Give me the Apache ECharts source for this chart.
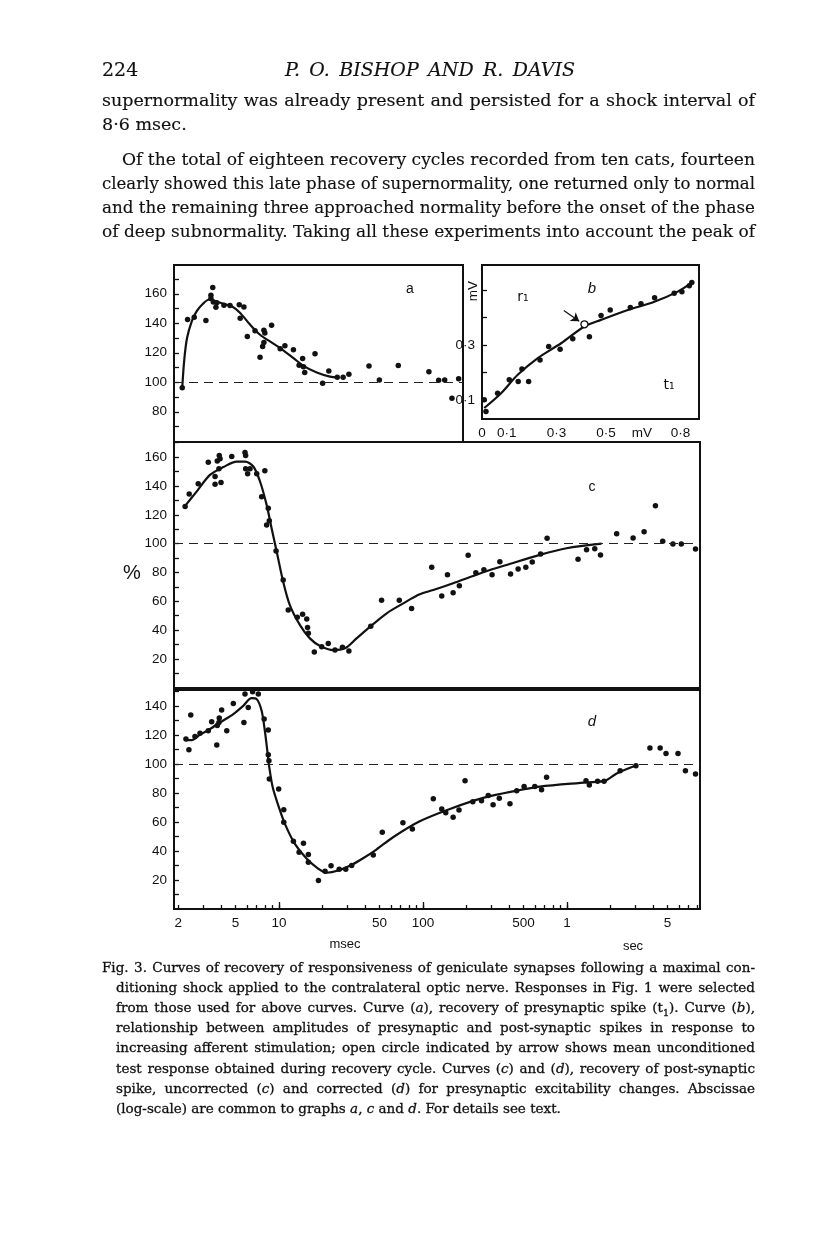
<!DOCTYPE html>
<html><head><meta charset="utf-8">
<script src="https://cdn.jsdelivr.net/npm/echarts@6/dist/echarts.min.js"></script>
<style>
html,body{margin:0;padding:0;background:#fff;}
#page{position:relative;width:816px;height:1234px;overflow:hidden;background:#fff;}
#chart{position:absolute;left:0;top:0;width:816px;height:1234px;}
.ln{position:absolute;white-space:nowrap;color:#111;font-family:'DejaVu Serif',serif;}
</style></head>
<body><div id="page"><div id="chart"></div></div>
<script>
// ---------------- DATA ----------------
// shared abscissa (log scale, msec)
const xLabelTicks = [2, 5, 10, 50, 100, 500, 1000, 5000];
const xLabelText  = ['2', '5', '10', '50', '100', '500', '1', '5'];
const xMinorTicks = [2,3,4,5,6,7,8,9,10,20,30,40,50,60,70,80,90,100,200,300,400,500,600,700,800,900,1000,2000,3000,4000,5000,6000,7000,8000];
const xDecadeTicks = [10, 100, 1000];

// panel a: recovery of presynaptic spike t1 (%)
const aYTicks = [70,80,90,100,110,120,130,140,150,160,170];
const aYLabels = [80,100,120,140,160];
const aPoints = [[2.13,96.3],[2.32,142.5],[2.58,144],[3.11,141.8],[3.47,164.3],[3.37,159],[3.37,156.8],[3.50,154.5],[3.70,153.9],[3.65,150.9],[4.15,152.2],[4.57,152],[5.30,152.5],[5.71,151.1],[5.38,143.4],[6.03,131.1],[6.82,135],[7.39,117],[7.70,124.3],[7.86,127],[7.86,135.2],[7.98,133.4],[8.89,138.6],[10.2,122.7],[11.0,124.7],[12.6,122],[13.8,111.6],[14.6,116.1],[14.8,110.6],[15.1,106.6],[17.8,119.3],[20.1,99.3],[22.2,107.7],[25.4,103.4],[27.9,103.4],[30.6,105.5],[42.2,111.1],[49.8,101.6],[67.4,111.3],[110,107.2],[128.6,101.4],[141.6,101.6],[159,89.1],[177,102.3]];
const aCurve = [[2.13,96.3],[2.20,115.2],[2.30,130],[2.48,141.3],[2.68,148.1],[2.98,153.4],[3.28,156.1],[3.60,155],[4.11,153.2],[4.70,151.5],[5.38,147],[6.30,139.1],[7.39,132.2],[8.66,127.7],[10.2,123.2],[12.6,116.4],[14.8,111.1],[18.3,106.6],[22.6,103.8],[25.8,103.1]];

// panel b: r1 (mV) against t1 (mV)
const bXLabelVals = [0, 0.1, 0.3, 0.5, 0.645, 0.8];
const bXLabelText = ['0', '0·1', '0·3', '0·5', 'mV', '0·8'];
const bYTicks = [0.1, 0.2, 0.3, 0.4, 0.5];
const bYLabelVals = [0.1, 0.3];
const bYLabelText = ['0·1', '0·3'];
const bPoints = [[0.009,0.100],[0.016,0.057],[0.063,0.124],[0.110,0.173],[0.146,0.167],[0.161,0.212],[0.188,0.167],[0.234,0.245],[0.269,0.294],[0.315,0.284],[0.366,0.322],[0.433,0.330],[0.480,0.407],[0.517,0.427],[0.598,0.436],[0.641,0.450],[0.696,0.472],[0.775,0.488],[0.806,0.494],[0.836,0.515],[0.846,0.527]];
const bCurve = [[0.009,0.070],[0.077,0.124],[0.144,0.191],[0.225,0.252],[0.319,0.306],[0.413,0.367],[0.480,0.391],[0.588,0.427],[0.695,0.457],[0.789,0.494],[0.846,0.527]];
const bOpen = [[0.413,0.375]];
const bArrow = [[0.330,0.425],[0.392,0.386]];

// panel c: post-synaptic spike, uncorrected (%)
const cYTicks = [10,20,30,40,50,60,70,80,90,100,110,120,130,140,150,160,170];
const cYLabels = [20,40,60,80,100,120,140,160];
const cPoints = [[2.23,125.7],[2.38,134.5],[2.75,141.5],[3.23,156.5],[3.60,146.5],[3.60,141.2],[3.73,157.4],[3.83,151.9],[3.85,161.1],[3.90,158.8],[3.96,142.4],[4.70,160.4],[5.81,163.2],[5.87,161.1],[5.87,151.9],[6.06,148.4],[6.30,151.9],[7.01,148.4],[7.58,132.6],[7.98,150.5],[8.21,113],[8.43,124.6],[8.57,115.8],[9.55,94.9],[10.7,74.8],[11.6,54],[13.4,48.9],[14.6,51],[15.6,47.7],[15.8,41.9],[16.0,37.8],[17.6,24.8],[19.8,28.5],[22.0,30.8],[24.5,26.2],[27.6,28.1],[30.6,25.5],[43.4,42.8],[51.6,60.7],[68.5,60.7],[83.4,55.1],[115,83.6],[135,63.7],[148,78.5],[162,66],[179,70.8],[206,91.9],[233,79.9],[265,81.9],[302,78.5],[342,87.5],[406,79],[458,82.4],[518,83.6],[574,87.3],[656,92.8],[728,103.8],[1194,89.2],[1368,95.8],[1560,96.5],[1710,92.2],[2214,106.9],[2880,104],[3434,108.3],[4116,126.2],[4624,101.7],[5446,99.8],[6226,99.8],[7814,96.3]];
const cCurve = [[2.23,126.2],[2.68,136.1],[3.32,147.7],[4.11,153.1],[5.09,156.9],[5.81,156.9],[6.64,153.5],[7.39,143.1],[8.21,126.9],[8.89,110.7],[9.65,94.4],[10.7,73.6],[11.9,57.4],[14.0,43.5],[16.4,34.3],[19.3,29],[23.9,26.2],[28.7,27.4],[34.6,34.3],[43,42.4],[56,51.7],[73,58.6],[95,64.9],[118,67.8],[162,72.5],[223,77.6],[292,81.7],[380,85.2],[648,92.2],[994,96.8],[1738,100]];

// panel d: post-synaptic spike, corrected (%)
const dYTicks = [10,20,30,40,50,60,70,80,90,100,110,120,130,140,150];
const dYLabels = [20,40,60,80,100,120,140];
const dPoints = [[2.26,117.2],[2.37,109.8],[2.44,133.7],[2.61,119],[2.83,121.1],[3.23,122.9],[3.41,129.1],[3.70,113.1],[3.73,126.6],[3.83,128.6],[3.85,131.7],[4.0,137.2],[4.34,122.9],[4.82,141.7],[5.81,148.2],[5.71,128.6],[6.12,139],[6.56,149.8],[7.19,148.2],[7.89,131],[8.43,123.4],[8.43,106.4],[8.52,102.3],[8.57,89.7],[9.96,82.8],[10.8,68.5],[10.8,59.8],[12.6,46.7],[13.8,39.1],[14.8,45.3],[16.0,37.6],[16.0,32.3],[18.8,19.7],[20.9,26.1],[23.0,29.8],[26.2,27.4],[29.1,27.4],[32,30],[45.2,37.3],[52.2,52.9],[72.6,59.4],[84.4,55.2],[118,76.1],[135,69],[144,66.3],[162,63.2],[178,68.3],[196,88.5],[222,74],[255,74.7],[284,78.2],[307,71.8],[339,76.3],[402,72.5],[448,81.6],[504,84.4],[598,84.4],[666,82.3],[722,90.8],[1356,88.5],[1430,85.5],[1632,88],[1810,88],[2340,95.4],[3012,98.8],[3768,111],[4438,111],[4874,107.3],[5906,107.3],[6646,95.4],[7814,93.1]];
const dCurve = [[2.26,116.5],[2.48,116.5],[2.83,120.2],[3.32,124.1],[4.0,129.3],[4.82,134.4],[5.65,140.1],[6.45,145.4],[7.01,144.7],[7.58,136.7],[7.98,122.9],[8.30,109.2],[8.57,97.7],[9.05,83.9],[9.90,71.3],[11.0,58.7],[12.9,44.9],[15.6,34.6],[18.8,27.7],[21.4,25],[25.8,26.5],[32,30.5],[38.4,35],[47.5,41],[62,49.5],[95,60.5],[154,69],[262,76.6],[448,81.6],[648,84.4],[1368,87.3],[1844,88.5],[2214,93.5],[2980,98.8]];

// page text
const headerNum = '224';
const headerTitle = 'P. O. BISHOP AND R. DAVIS';
const bodyLines = [
  'supernormality was already present and persisted for a shock interval of',
  '8·6 msec.',
  'Of the total of eighteen recovery cycles recorded from ten cats, fourteen',
  'clearly showed this late phase of supernormality, one returned only to normal',
  'and the remaining three approached normality before the onset of the phase',
  'of deep subnormality. Taking all these experiments into account the peak of'
];
const captionLines = [
  'Fig. 3. Curves of recovery of responsiveness of geniculate synapses following a maximal con-',
  'ditioning shock applied to the contralateral optic nerve. Responses in Fig. 1 were selected',
  'from those used for above curves. Curve (<i>a</i>), recovery of presynaptic spike (t<sub style="font-size:70%">1</sub>). Curve (<i>b</i>),',
  'relationship between amplitudes of presynaptic and post-synaptic spikes in response to',
  'increasing afferent stimulation; open circle indicated by arrow shows mean unconditioned',
  'test response obtained during recovery cycle. Curves (<i>c</i>) and (<i>d</i>), recovery of post-synaptic',
  'spike, uncorrected (<i>c</i>) and corrected (<i>d</i>) for presynaptic excitability changes. Abscissae',
  '(log-scale) are common to graphs <i>a</i>, <i>c</i> and <i>d</i>. For details see text.'
];

// ---------------- TEXT LAYOUT ----------------
const page = document.getElementById('page');
function placeLine(html, left, baseline, fs, width, extra) {
  const d = document.createElement('div');
  d.className = 'ln';
  d.innerHTML = html;
  d.style.left = left + 'px';
  d.style.top = (baseline - 0.85 * fs) + 'px';
  d.style.fontSize = fs + 'px';
  d.style.lineHeight = fs + 'px';
  if (extra) Object.assign(d.style, extra);
  page.appendChild(d);
  if (width) {
    const w = d.getBoundingClientRect().width;
    if (w > width) {
      d.style.transformOrigin = '0 0';
      d.style.transform = 'scaleX(' + (width / w) + ')';
    } else {
      const n = (d.textContent.match(/ /g) || []).length;
      if (n) d.style.wordSpacing = ((width - w) / n) + 'px';
    }
  }
  return d;
}
const LM = 102, RM = 755, TW = RM - LM;
placeLine(headerNum, LM, 76, 19, 0, {webkitTextStroke: '0.15px #111'});
placeLine(headerTitle, 285, 76, 19, 290, {fontStyle: 'italic', webkitTextStroke: '0.15px #111'});
const bodyBase = [107, 131, 166, 190, 214, 238];
bodyLines.forEach((t, i) => {
  const indent = i === 2 ? 20 : 0;
  const full = i !== 1;
  placeLine(t, LM + indent, bodyBase[i], 17.5, full ? TW - indent : 0, {webkitTextStroke: '0.15px #111'});
});
captionLines.forEach((t, i) => {
  const left = i === 0 ? LM : LM + 14;
  const full = i !== captionLines.length - 1;
  placeLine(t, left, 972.5 + 20.1 * i, 13.5, full ? RM - left : 0, {webkitTextStroke: '0.3px #111'});
});

// ---------------- CHART ----------------
const lg = v => Math.log10(v);
const toLog = arr => arr.map(p => [lg(p[0]), p[1]]);
const pick = (vals, texts) => v => {
  let bi = 0, bd = Infinity;
  vals.forEach((t, i) => { const d = Math.abs(t - v); if (d < bd) { bd = d; bi = i; } });
  return texts[bi];
};
const INK = '#111';
const PXDEC = 144;                 // pixels per decade
const LMIN = lg(2) - (178.3 - 174) / PXDEC;
const labelFont = {fontFamily: 'Liberation Sans', fontSize: 13.5, color: INK};

function yAxisDef(gi, min, max, ticks, labels, fmt) {
  return {
    type: 'value', gridIndex: gi, min: min, max: max,
    axisLine: {show: true, lineStyle: {color: INK, width: 2}},
    axisTick: {show: true, inside: true, length: 5, customValues: ticks, lineStyle: {color: INK, width: 1.3}},
    axisLabel: Object.assign({show: true, margin: 7, customValues: labels, formatter: fmt || (v => String(Math.round(v)))}, labelFont),
    splitLine: {show: false}
  };
}
function hiddenX(gi, min, max) {
  return {type: 'value', gridIndex: gi, min: min, max: max, position: 'bottom',
    axisLine: {show: true, lineStyle: {color: INK, width: 2}},
    axisTick: {show: false}, axisLabel: {show: false}, splitLine: {show: false}};
}
const dash = {type: [9, 6], width: 1.1, color: '#222'};
function refLine() {
  return {silent: true, symbol: ['none', 'none'], label: {show: false},
    lineStyle: dash, data: [{yAxis: 100}]};
}
const curveStyle = {color: INK, width: 2.2};
const dotStyle = {color: INK, opacity: 1};

const gridBox = {show: true, borderColor: INK, borderWidth: 2, backgroundColor: 'transparent'};
const option = {
  animation: false,
  backgroundColor: 'transparent',
  textStyle: {fontFamily: 'Liberation Sans'},
  grid: [
    Object.assign({left: 174, top: 265, width: 289, height: 177}, gridBox),
    Object.assign({left: 482, top: 265, width: 217, height: 154}, gridBox),
    Object.assign({left: 174, top: 442, width: 526, height: 248}, gridBox),
    Object.assign({left: 174, top: 690, width: 526, height: 219}, gridBox)
  ],
  xAxis: [
    hiddenX(0, LMIN, LMIN + 289 / PXDEC),
    {type: 'value', gridIndex: 1, min: 0, max: 0.875, position: 'bottom',
      axisLine: {show: true, lineStyle: {color: INK, width: 2}},
      axisTick: {show: false},
      axisLabel: Object.assign({show: true, margin: 7, customValues: bXLabelVals, formatter: pick(bXLabelVals, bXLabelText)}, labelFont),
      splitLine: {show: false}},
    hiddenX(2, LMIN, LMIN + 526 / PXDEC),
    {type: 'value', gridIndex: 3, min: LMIN, max: LMIN + 526 / PXDEC, position: 'bottom',
      axisLine: {show: true, lineStyle: {color: INK, width: 2}},
      axisTick: {show: true, inside: true, length: 4, customValues: xMinorTicks.map(lg), lineStyle: {color: INK, width: 1.3}},
      axisLabel: Object.assign({show: true, margin: 7, customValues: xLabelTicks.map(lg), formatter: pick(xLabelTicks.map(lg), xLabelText)}, labelFont),
      splitLine: {show: false}},
    {type: 'value', gridIndex: 3, min: LMIN, max: LMIN + 526 / PXDEC, position: 'bottom', offset: 0,
      axisLine: {show: false},
      axisTick: {show: true, inside: true, length: 7, customValues: xDecadeTicks.map(lg), lineStyle: {color: INK, width: 1.3}},
      axisLabel: {show: false}, splitLine: {show: false}}
  ],
  yAxis: [
    yAxisDef(0, 59.5, 179.5, aYTicks, aYLabels),
    yAxisDef(1, 0.03, 0.591, bYTicks, bYLabelVals, pick(bYLabelVals, bYLabelText)),
    yAxisDef(2, -1.5, 170.5, cYTicks, cYLabels),
    yAxisDef(3, 0, 151, dYTicks, dYLabels)
  ],
  series: [
    {type: 'line', xAxisIndex: 0, yAxisIndex: 0, data: toLog(aCurve), smooth: 0.3, showSymbol: false, lineStyle: curveStyle, markLine: refLine(), z: 3},
    {type: 'scatter', xAxisIndex: 0, yAxisIndex: 0, data: toLog(aPoints), symbolSize: 5.5, itemStyle: dotStyle, z: 4},

    {type: 'line', xAxisIndex: 1, yAxisIndex: 1, data: bCurve, smooth: 0.3, showSymbol: false, lineStyle: curveStyle, z: 3,
      markLine: {silent: true, symbol: ['none', 'arrow'], symbolSize: 8, label: {show: false},
        lineStyle: {color: INK, width: 1.2, type: 'solid'},
        data: [[{coord: bArrow[0]}, {coord: bArrow[1]}]]}},
    {type: 'scatter', xAxisIndex: 1, yAxisIndex: 1, data: bPoints, symbolSize: 5.5, itemStyle: dotStyle, z: 4},
    {type: 'scatter', xAxisIndex: 1, yAxisIndex: 1, data: bOpen, symbolSize: 7, itemStyle: {color: '#fff', borderColor: INK, borderWidth: 1.3, opacity: 1}, z: 5},

    {type: 'line', xAxisIndex: 2, yAxisIndex: 2, data: toLog(cCurve), smooth: 0.3, showSymbol: false, lineStyle: curveStyle, markLine: refLine(), z: 3},
    {type: 'scatter', xAxisIndex: 2, yAxisIndex: 2, data: toLog(cPoints), symbolSize: 5.5, itemStyle: dotStyle, z: 4},

    {type: 'line', xAxisIndex: 3, yAxisIndex: 3, data: toLog(dCurve), smooth: 0.3, showSymbol: false, lineStyle: curveStyle, markLine: refLine(), z: 3},
    {type: 'scatter', xAxisIndex: 3, yAxisIndex: 3, data: toLog(dPoints), symbolSize: 5.5, itemStyle: dotStyle, z: 4}
  ],
  graphic: [
    {type: 'text', x: 410, y: 289, style: {text: 'a', font: '14px "Liberation Sans"', fill: INK, align: 'center', verticalAlign: 'middle'}},
    {type: 'text', x: 592, y: 289, style: {text: 'b', font: 'italic 15px "Liberation Sans"', fill: INK, align: 'center', verticalAlign: 'middle'}},
    {type: 'text', x: 523, y: 297, style: {text: 'r₁', font: '14px "DejaVu Sans"', fill: INK, align: 'center', verticalAlign: 'middle'}},
    {type: 'text', x: 669, y: 385, style: {text: 't₁', font: '14px "DejaVu Sans"', fill: INK, align: 'center', verticalAlign: 'middle'}},
    {type: 'text', x: 473, y: 291, rotation: Math.PI / 2, style: {text: 'mV', font: '13.5px "Liberation Sans"', fill: INK, align: 'center', verticalAlign: 'middle'}},
    {type: 'text', x: 592, y: 487, style: {text: 'c', font: '14px "Liberation Sans"', fill: INK, align: 'center', verticalAlign: 'middle'}},
    {type: 'text', x: 592, y: 722, style: {text: 'd', font: 'italic 15px "Liberation Sans"', fill: INK, align: 'center', verticalAlign: 'middle'}},
    {type: 'text', x: 132, y: 573, style: {text: '%', font: '20px "Liberation Sans"', fill: INK, align: 'center', verticalAlign: 'middle'}},
    {type: 'text', x: 345, y: 944, style: {text: 'msec', font: '13px "Liberation Sans"', fill: INK, align: 'center', verticalAlign: 'middle'}},
    {type: 'text', x: 633, y: 946, style: {text: 'sec', font: '13px "Liberation Sans"', fill: INK, align: 'center', verticalAlign: 'middle'}}
  ]
};
const chart = echarts.init(document.getElementById('chart'), null, {renderer: 'canvas'});
chart.setOption(option);
</script>
</body></html>
